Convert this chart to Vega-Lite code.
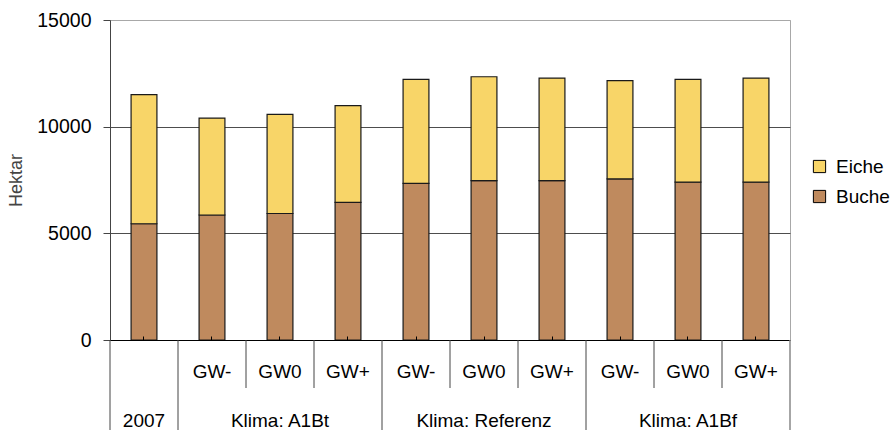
{
  "$schema": "https://vega.github.io/schema/vega-lite/v6.json",
  "padding": {"left": 7, "top": 9, "right": 0, "bottom": 0},
  "background": "white",
  "config": {"font": "Liberation Sans", "view": {"stroke": null}},
  "datasets": {
    "bars": [
      {"cat": "2007", "art": "Buche", "hektar": 5450},
      {"cat": "2007", "art": "Eiche", "hektar": 6050},
      {"cat": "A1Bt GW-", "art": "Buche", "hektar": 5860},
      {"cat": "A1Bt GW-", "art": "Eiche", "hektar": 4545},
      {"cat": "A1Bt GW0", "art": "Buche", "hektar": 5930},
      {"cat": "A1Bt GW0", "art": "Eiche", "hektar": 4650},
      {"cat": "A1Bt GW+", "art": "Buche", "hektar": 6450},
      {"cat": "A1Bt GW+", "art": "Eiche", "hektar": 4535},
      {"cat": "Ref GW-", "art": "Buche", "hektar": 7340},
      {"cat": "Ref GW-", "art": "Eiche", "hektar": 4880},
      {"cat": "Ref GW0", "art": "Buche", "hektar": 7470},
      {"cat": "Ref GW0", "art": "Eiche", "hektar": 4870},
      {"cat": "Ref GW+", "art": "Buche", "hektar": 7470},
      {"cat": "Ref GW+", "art": "Eiche", "hektar": 4810},
      {"cat": "A1Bf GW-", "art": "Buche", "hektar": 7550},
      {"cat": "A1Bf GW-", "art": "Eiche", "hektar": 4605},
      {"cat": "A1Bf GW0", "art": "Buche", "hektar": 7400},
      {"cat": "A1Bf GW0", "art": "Eiche", "hektar": 4820},
      {"cat": "A1Bf GW+", "art": "Buche", "hektar": 7400},
      {"cat": "A1Bf GW+", "art": "Eiche", "hektar": 4880}
    ],
    "cats": [
      {"cat": "2007", "gw": ""},
      {"cat": "A1Bt GW-", "gw": "GW-"},
      {"cat": "A1Bt GW0", "gw": "GW0"},
      {"cat": "A1Bt GW+", "gw": "GW+"},
      {"cat": "Ref GW-", "gw": "GW-"},
      {"cat": "Ref GW0", "gw": "GW0"},
      {"cat": "Ref GW+", "gw": "GW+"},
      {"cat": "A1Bf GW-", "gw": "GW-"},
      {"cat": "A1Bf GW0", "gw": "GW0"},
      {"cat": "A1Bf GW+", "gw": "GW+"}
    ],
    "groups": [
      {"start": "2007", "mid": "2007", "label": "2007"},
      {"start": "A1Bt GW-", "mid": "A1Bt GW0", "label": "Klima: A1Bt"},
      {"start": "Ref GW-", "mid": "Ref GW0", "label": "Klima: Referenz"},
      {"start": "A1Bf GW-", "mid": "A1Bf GW0", "label": "Klima: A1Bf"}
    ]
  },
  "bounds": "flush",
  "vconcat": [
    {
      "width": 680,
      "height": 320,
      "view": {"stroke": "#a8a8a8"},
      "data": {"name": "bars"},
      "mark": {"type": "bar", "stroke": "#1a1a1a", "strokeWidth": 1.2},
      "encoding": {
        "x": {
          "field": "cat",
          "type": "nominal",
          "sort": null,
          "scale": {"domain": ["2007", "A1Bt GW-", "A1Bt GW0", "A1Bt GW+", "Ref GW-", "Ref GW0", "Ref GW+", "A1Bf GW-", "A1Bf GW0", "A1Bf GW+"], "paddingInner": 0.62, "paddingOuter": 0.31},
          "axis": {"title": null, "labels": false, "domainColor": "#000", "domainWidth": 1.2, "tickColor": "#000", "tickSize": -4, "zindex": 1}
        },
        "y": {
          "field": "hektar",
          "type": "quantitative",
          "aggregate": "sum",
          "stack": "zero",
          "scale": {"domain": [0, 15000], "nice": false},
          "axis": {
            "title": "Hektar",
            "titleFontSize": 18,
            "titleFontWeight": "normal",
            "titleColor": "#444",
            "titlePadding": 11,
            "values": [0, 5000, 10000, 15000],
            "format": "d",
            "labelFontSize": 19.5,
            "labelColor": "#000",
            "labelPadding": 12,
            "tickSize": 7,
            "tickColor": "#444",
            "domainColor": "#444",
            "grid": true,
            "gridColor": {"condition": {"test": "datum.value == 15000", "value": "#a8a8a8"}, "value": "#4d4d4d"},
            "gridOpacity": 1
          }
        },
        "color": {
          "field": "art",
          "type": "nominal",
          "scale": {"domain": ["Eiche", "Buche"], "range": ["#F8D568", "#BF8A5E"]},
          "legend": {
            "title": null,
            "orient": "none",
            "legendX": 700,
            "legendY": 137,
            "symbolType": "square",
            "symbolSize": 150,
            "symbolStrokeColor": "#000",
            "symbolStrokeWidth": 1,
            "labelFontSize": 19,
            "labelColor": "#000",
            "rowPadding": 10,
            "labelOffset": 7
          }
        },
        "order": {"field": "art", "sort": "ascending"}
      }
    },
    {
      "width": 680,
      "height": 48,
      "data": {"name": "cats"},
      "encoding": {
        "x": {
          "field": "cat",
          "type": "nominal",
          "sort": null,
          "scale": {"domain": ["2007", "A1Bt GW-", "A1Bt GW0", "A1Bt GW+", "Ref GW-", "Ref GW0", "Ref GW+", "A1Bf GW-", "A1Bf GW0", "A1Bf GW+"], "paddingInner": 0, "paddingOuter": 0},
          "axis": null
        }
      },
      "layer": [
        {
          "mark": {"type": "rule", "color": "#444", "strokeWidth": 1},
          "encoding": {"x": {"field": "cat", "type": "nominal", "bandPosition": 0}}
        },
        {
          "transform": [{"filter": "datum.cat == 'A1Bf GW+'"}],
          "mark": {"type": "rule", "color": "#888", "strokeWidth": 1.5},
          "encoding": {"x": {"field": "cat", "type": "nominal", "bandPosition": 1}}
        },
        {
          "mark": {"type": "text", "fontSize": 19, "color": "#000", "dy": 8},
          "encoding": {"text": {"field": "gw"}}
        }
      ]
    },
    {
      "width": 680,
      "height": 42,
      "data": {"name": "groups"},
      "layer": [
        {
          "mark": {"type": "rule", "color": "#444", "strokeWidth": 1},
          "encoding": {"x": {"field": "start", "type": "nominal", "bandPosition": 0, "sort": null, "scale": {"domain": ["2007", "A1Bt GW-", "A1Bt GW0", "A1Bt GW+", "Ref GW-", "Ref GW0", "Ref GW+", "A1Bf GW-", "A1Bf GW0", "A1Bf GW+"], "paddingInner": 0, "paddingOuter": 0}, "axis": null}}
        },
        {
          "transform": [{"filter": "datum.start == 'A1Bf GW-'"}],
          "mark": {"type": "rule", "color": "#888", "strokeWidth": 1.5},
          "encoding": {"x": {"field": "mid", "type": "nominal", "bandPosition": 2, "axis": null}}
        },
        {
          "mark": {"type": "text", "fontSize": 19, "color": "#000", "dy": 12},
          "encoding": {"x": {"field": "mid", "type": "nominal", "axis": null}, "text": {"field": "label"}}
        }
      ]
    }
  ],
  "spacing": 0,
  "resolve": {"scale": {"x": "independent"}}
}
